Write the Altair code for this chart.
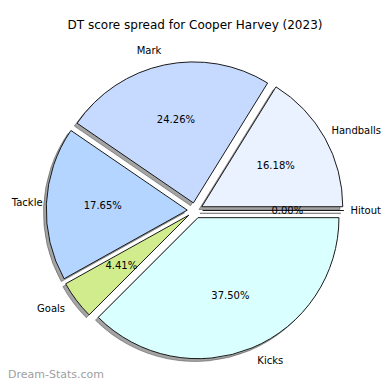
import math
import altair as alt
import pandas as pd

# ---- data ----
categories = ["Handballs", "Mark", "Tackle", "Goals", "Kicks", "Hitout"]
dt_points = [22, 33, 24, 6, 51, 0]
colors = ["#eaf1ff", "#c6d9ff", "#b4d5ff", "#d0ec8c", "#d9ffff", "#ffe4c4"]
title_text = "DT score spread for Cooper Harvey (2023)"
watermark_text = "Dream-Stats.com"

df = pd.DataFrame({
    "label": categories,
    "points": dt_points,
    "color": colors,
    "idx": list(range(len(categories))),
})

# ---- geometry / style ----
W, H = 374, 374
CX, CY, R = 187, 202.5, 141
EXPLODE = 0.055
LABEL_D = 1.1
PCT_D = 0.6
CHAR_W = 5.6
FONT = "DejaVu Sans"

base = (
    alt.Chart(df)
    .transform_joinaggregate(total="sum(points)")
    .transform_window(cum="sum(points)", sort=[alt.SortField("idx")], frame=[None, 0])
    .transform_calculate(
        f0="(datum.cum - datum.points) / datum.total",
        f1="datum.cum / datum.total",
        pct_text="format(datum.points / datum.total * 100, '.2f') + '%'",
    )
    .transform_calculate(mid="(datum.f0 + datum.f1) * PI")
    .transform_calculate(
        ex=f"{EXPLODE} * cos(datum.mid)",
        ey=f"{EXPLODE} * sin(datum.mid)",
        lx=f"{EXPLODE + LABEL_D} * cos(datum.mid)",
        ly=f"{EXPLODE + LABEL_D} * sin(datum.mid)",
        px=f"{EXPLODE + PCT_D} * cos(datum.mid)",
        py=f"{EXPLODE + PCT_D} * sin(datum.mid)",
    )
    .transform_calculate(
        # keep labels inside the drawing area
        lx_r=f"max(datum.lx, (datum.label.length * {CHAR_W} + 1 - {CX}) / {R})",
        fits=f"({CX} + {R} * datum.lx + datum.label.length * {CHAR_W}) <= {W - 1}",
    )
)

xscale = alt.Scale(domain=[-1, 1], range=[CX - R, CX + R], nice=False, zero=False)
yscale = alt.Scale(domain=[-1, 1], range=[CY + R, CY - R], nice=False, zero=False)
tscale = alt.Scale(domain=[0, 1], range=[math.pi / 2, math.pi / 2 - 2 * math.pi])


def arc_enc(layer):
    return layer.encode(
        x=alt.X("ex:Q", scale=xscale, axis=None),
        y=alt.Y("ey:Q", scale=yscale, axis=None),
        theta=alt.Theta("f0:Q", scale=tscale, stack=False),
        theta2="f1:Q",
    )


shadow = arc_enc(
    base.mark_arc(radius=R, fill="#4a4a4a", fillOpacity=0.5, stroke="#4a4a4a",
                  strokeOpacity=0.5, strokeWidth=1, xOffset=-2.8, yOffset=2.8)
)

wedges = arc_enc(
    base.mark_arc(radius=R, stroke="#1a1a1a", strokeWidth=1)
).encode(fill=alt.Fill("color:N", scale=None, legend=None))

pct = base.mark_text(font=FONT, fontSize=10, color="black", align="center", baseline="middle").encode(
    x=alt.X("px:Q", scale=xscale, axis=None),
    y=alt.Y("py:Q", scale=yscale, axis=None),
    text="pct_text:N",
)

labels_left = base.transform_filter("datum.lx > 0 && datum.fits").mark_text(
    font=FONT, fontSize=10, color="black", align="left", baseline="middle"
).encode(
    x=alt.X("lx:Q", scale=xscale, axis=None),
    y=alt.Y("ly:Q", scale=yscale, axis=None),
    text="label:N",
)

labels_edge = base.transform_filter("datum.lx > 0 && !datum.fits").mark_text(
    font=FONT, fontSize=10, color="black", align="right", baseline="middle"
).encode(
    x=alt.value(W - 1),
    y=alt.Y("ly:Q", scale=yscale, axis=None),
    text="label:N",
)

labels_right = base.transform_filter("datum.lx <= 0").mark_text(
    font=FONT, fontSize=10, color="black", align="right", baseline="middle"
).encode(
    x=alt.X("lx_r:Q", scale=xscale, axis=None),
    y=alt.Y("ly:Q", scale=yscale, axis=None),
    text="label:N",
)

title = alt.Chart(pd.DataFrame({"t": [title_text]})).mark_text(
    font=FONT, fontSize=12, color="black", align="center", baseline="middle"
).encode(x=alt.value(CX), y=alt.value(17), text="t:N")

watermark = alt.Chart(pd.DataFrame({"t": [watermark_text]})).mark_text(
    font=FONT, fontSize=11, color="#a0a0a0", align="left", baseline="middle"
).encode(x=alt.value(0), y=alt.value(367), text="t:N")

chart = (
    alt.layer(shadow, wedges, pct, labels_left, labels_edge, labels_right, title, watermark)
    .properties(width=W, height=H, padding=0, autosize=alt.AutoSizeParams(type="none"))
    .configure_view(stroke=None)
)

chart.save("out.html", embed_options={"renderer": "svg", "actions": False})
